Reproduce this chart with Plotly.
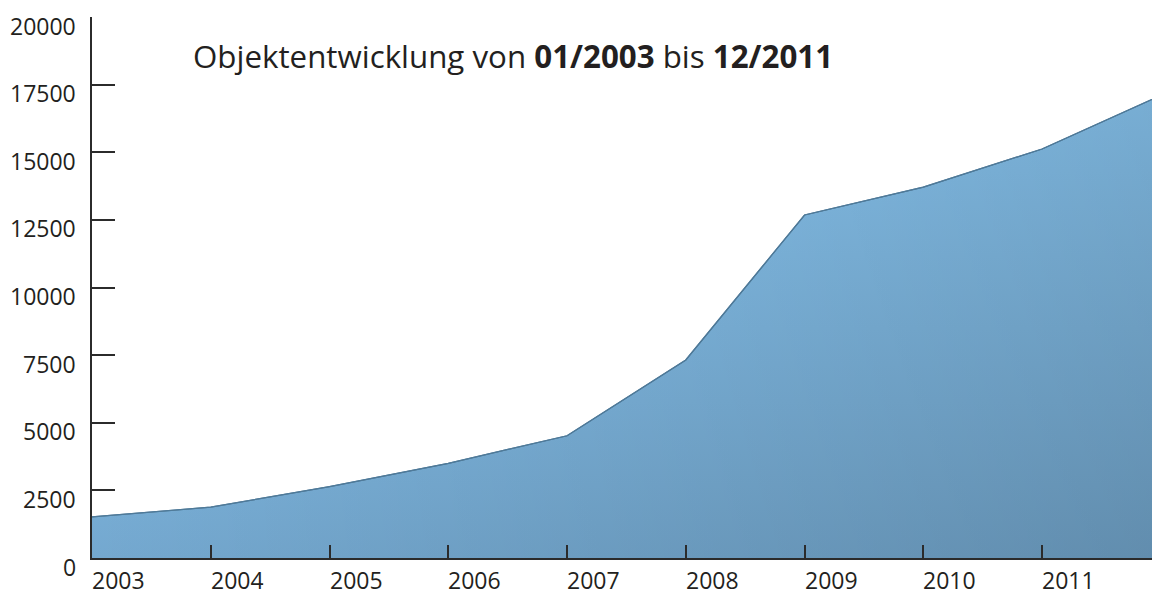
import plotly.graph_objects as go

# Data
years = [2003, 2004, 2005, 2006, 2007, 2008, 2009, 2010, 2011, 2012]
objects = [1520, 1880, 2640, 3500, 4520, 7320, 12680, 13710, 15120, 17100]
x_tick_labels = ["2003", "2004", "2005", "2006", "2007", "2008", "2009", "2010", "2011"]
x_tick_vals = [2003, 2004, 2005, 2006, 2007, 2008, 2009, 2010, 2011]
y_tick_vals = [0, 2500, 5000, 7500, 10000, 12500, 15000, 17500, 20000]
title_text = "Objektentwicklung von <b>01/2003</b> bis <b>12/2011</b>"

FONT = "Open Sans"
TXT = "#231f20"
AX = "#2b2b2b"

fig = go.Figure()

# base area with vertical gradient
fig.add_trace(go.Scatter(
    x=years, y=objects, mode="lines",
    line=dict(color="#4f7a99", width=1.2),
    fill="tozeroy",
    fillgradient=dict(type="vertical", start=0, stop=17000,
                      colorscale=[[0, "rgb(116,168,207)"], [1, "rgb(142,206,251)"]]),
    hoverinfo="skip", showlegend=False,
))
# horizontal darkening overlay (makes diagonal effect)
fig.add_trace(go.Scatter(
    x=years, y=objects, mode="lines",
    line=dict(color="rgba(0,0,0,0)", width=0),
    fill="tozeroy",
    fillgradient=dict(type="horizontal", start=2003, stop=2011.93,
                      colorscale=[[0, "rgba(0,0,0,0)"], [1, "rgba(0,0,0,0.16)"]]),
    hoverinfo="skip", showlegend=False,
))
# redraw line on top
fig.add_trace(go.Scatter(
    x=years, y=objects, mode="lines",
    line=dict(color="#4f7a99", width=1.2),
    hoverinfo="skip", showlegend=False,
))

annotations = []
for v in y_tick_vals:
    annotations.append(dict(
        x=0, xref="paper", xanchor="right", xshift=-14,
        y=v, yref="y", yanchor="middle", yshift=-8.5,
        text=str(v), showarrow=False,
        font=dict(family=FONT, size=23, color=TXT),
    ))
for xv, lab in zip(x_tick_vals, x_tick_labels):
    annotations.append(dict(
        x=xv, xref="x", xanchor="left", xshift=-2,
        y=0, yref="paper", yanchor="middle", yshift=-22,
        height=20, valign="middle",
        text=lab, showarrow=False,
        font=dict(family=FONT, size=23, color=TXT),
    ))
annotations.append(dict(
    x=(193 - 92) / 1060, xref="paper", xanchor="left", xshift=-2,
    y=(558 - 57) / 541, yref="paper", yanchor="middle", yshift=1,
    text=title_text, showarrow=False,
    font=dict(family=FONT, size=31.3, color=TXT),
))

fig.update_layout(
    width=1152, height=592,
    margin=dict(l=92, r=0, t=17, b=34),
    paper_bgcolor="white", plot_bgcolor="white",
    annotations=annotations,
    xaxis=dict(
        range=[2003, 2011.926], showgrid=False, zeroline=False,
        showline=True, linecolor=AX, linewidth=2,
        tickmode="array", tickvals=x_tick_vals, ticks="inside",
        ticklen=13, tickwidth=1.5, tickcolor=AX, showticklabels=False,
    ),
    yaxis=dict(
        range=[0, 20000], showgrid=False, zeroline=False,
        showline=True, linecolor=AX, linewidth=2,
        tickmode="array", tickvals=y_tick_vals, ticks="inside",
        ticklen=23, tickwidth=1.5, tickcolor=AX, showticklabels=False,
    ),
)

fig.write_html("out.html",
               config={"displayModeBar": False},
               post_script="document.body.style.margin='0';document.body.style.overflow='hidden';")
